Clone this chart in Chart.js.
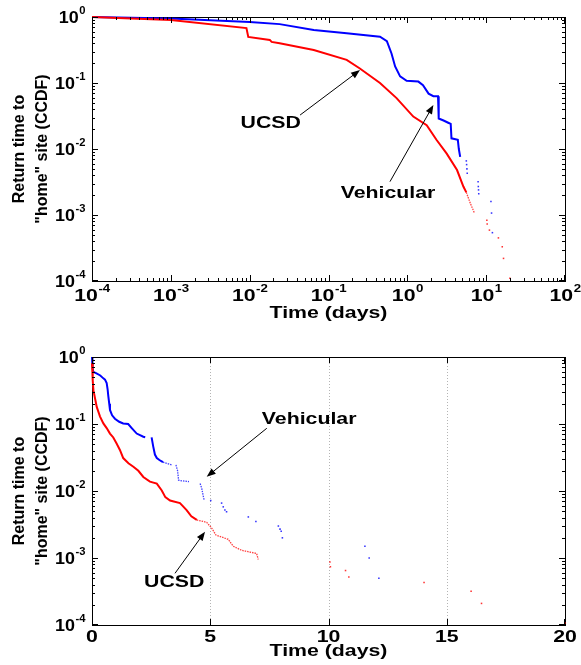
<!DOCTYPE html>
<html>
<head>
<meta charset="utf-8">
<script src="https://cdn.jsdelivr.net/npm/chart.js@4/dist/chart.umd.min.js"></script>
<style>
html,body{margin:0;padding:0;background:#fff}
.box{position:relative;width:581px}
</style>
</head>
<body>
<div class="box" style="height:330px"><canvas id="top"></canvas></div>
<div class="box" style="height:335px"><canvas id="bot"></canvas></div>
<script>
/* ===== data: [days, CCDF] ===== */
// top panel (log-log)
const vehTop = [[1e-4,1.0],[1e-3,0.95],[1e-2,0.84],[0.024,0.78],[0.065,0.635],[0.17,0.566],[0.45,0.504],
  [0.55,0.43],[0.63,0.28],[0.70,0.178],[0.81,0.126],[0.98,0.108],[1.38,0.105],[1.58,0.093],[1.86,0.069],
  [2.14,0.063],[2.45,0.063],[2.5,0.029],[2.88,0.027],[3.3,0.025],[3.55,0.024],[3.63,0.0145],[4.37,0.0138],
  [4.5,0.0100],[4.68,0.0076]];
const vehTopDots = [[5.6,0.0066],[5.65,0.0058],[5.7,0.005],[5.75,0.0043],[7.9,0.0032],[7.95,0.0027],
  [8.0,0.0024],[8.05,0.0021],[11.5,0.0016],[11.7,0.00107],[12.0,0.00054]];
const ucsdTop = [[1e-4,1.0],[1e-3,0.90],[0.0091,0.68],[0.0096,0.50],[0.018,0.45],[0.019,0.42],[0.024,0.40],
  [0.065,0.316],[0.17,0.224],[0.25,0.166],[0.45,0.10],[0.73,0.059],[1.19,0.031],[1.76,0.023],[2.34,0.0138],
  [3.16,0.0085],[4.27,0.0048],[5.14,0.0027],[5.6,0.0022]];
const ucsdTopTail = [[5.6,0.0022],[6.3,0.0015],[7.1,0.00107]];
const ucsdTopDots = [[10.2,0.00083],[10.3,0.00073],[11.0,0.00059],[14.3,0.00045],[16.0,0.00033],
  [16.6,0.00022],[20,0.00011]];

// bottom panel (lin-log); null breaks a line
const vehBot = [[0,1.0],[0.02,0.7],[0.055,0.60],[0.17,0.575],[0.35,0.53],[0.48,0.48],[0.55,0.46],
  [0.62,0.41],[0.66,0.33],[0.69,0.26],[0.73,0.2],[0.76,0.162],[0.85,0.135],[0.97,0.12],[1.15,0.108],
  [1.32,0.102],[1.53,0.10],[1.68,0.087],[1.89,0.072],[2.17,0.0645],[2.25,0.0635],null,
  [2.52,0.063],[2.59,0.046],[2.66,0.035],[2.74,0.031],[2.85,0.029],[3.0,0.027]];
const vehBotTail = [[3.0,0.027],[3.37,0.0245],null,[3.55,0.0245],[3.62,0.02],[3.66,0.0145],[3.8,0.0142],
  [4.1,0.0138],null,[4.57,0.0129],[4.64,0.011],[4.70,0.0085],[4.74,0.0074]];
const vehBotDots = [[5.02,0.0072],[5.48,0.0066],[5.55,0.0058],[5.62,0.0052],[5.69,0.0049],[6.61,0.0041],
  [6.93,0.0035],[7.88,0.0030],[7.95,0.0027],[8.0,0.0025],[8.05,0.0020],[11.54,0.0015],[11.72,0.0010],
  [12.13,0.0005]];
const ucsdBot = [[0,0.81],[0.03,0.45],[0.06,0.32],[0.2,0.18],[0.34,0.129],[0.48,0.102],[0.62,0.087],
  [0.76,0.072],[0.9,0.063],[1.04,0.051],[1.18,0.041],[1.32,0.031],[1.54,0.026],[1.75,0.023],[1.96,0.020],
  [2.17,0.0162],[2.45,0.0138],[2.74,0.0129],[2.95,0.0102],[3.1,0.0081],[3.3,0.0072],[3.72,0.0066],
  [4.0,0.0052],[4.2,0.0042],[4.43,0.0037]];
const ucsdBotTail = [[4.43,0.0037],[4.85,0.0034],[5.06,0.0028],[5.24,0.0022],[5.76,0.0019],[5.97,0.0015],
  [6.33,0.0013],[6.96,0.00117],[7.03,0.00095]];
const ucsdBotDots = [[10.06,0.00087],[10.08,0.00074],[10.72,0.00065],[10.86,0.00052],[14.04,0.00043],
  [16.03,0.00032],[16.47,0.00021],[20,0.000107]];

// axes
const xTopTicks = [1e-4,1e-3,1e-2,1e-1,1,10,100];
const xTopExp   = ['-4','-3','-2','-1','0','1','2'];
const xBotTicks = [0,5,10,15,20];
const xBotLabels = ['0','5','10','15','20'];
const xBotGrid  = [5,10,15];
const yTicks = [1,1e-1,1e-2,1e-3,1e-4];
const yExp   = ['0','-1','-2','-3','-4'];
const xTitle = 'Time (days)';
const yTitle = ['Return time to', '"home" site (CCDF)'];

// annotations: label at (x,y), arrow from (ax,ay) to (hx,hy)
const notesTop = [
  {t:'UCSD', x:0.0185, y:0.0239, ax:0.0436, ay:0.0327, hx:0.251, hy:0.157},
  {t:'Vehicular', x:0.569, y:0.00212, ax:0.602, ay:0.0032, hx:2.14, hy:0.0464},
];
const notesBot = [
  {t:'Vehicular', x:9.18, y:0.115, ax:7.39, ay:0.0863, hx:4.85, hy:0.0163},
  {t:'UCSD', x:3.475, y:0.000423, ax:3.51, ay:0.000591, hx:4.78, hy:0.00247},
];

/* ===== drawing helpers ===== */
const SX = 1.33;   // exported figure has horizontally wide lettering
const FONT = '"Liberation Sans", Arial, sans-serif';
const RED = '#ff0000', BLUE = '#0000ff';

function say(ctx, s, x, y, size, align, sx = SX){
  ctx.save(); ctx.translate(x, y); ctx.scale(sx, 1);
  ctx.font = `bold ${size}px ${FONT}`; ctx.textAlign = align; ctx.textBaseline = 'middle';
  ctx.fillStyle = '#000'; ctx.fillText(s, 0, 0); ctx.restore();
}
const wid = (ctx, s, size, sx) => { ctx.font = `bold ${size}px ${FONT}`; return ctx.measureText(s).width*sx; };
function pow10(ctx, e, x, y, align, sx = SX){
  const wb = wid(ctx,'10',16,sx), we = wid(ctx,e,10,sx);
  const x0 = align==='center' ? x-(wb+we)/2 : x-wb-we;
  say(ctx, '10', x0, y, 16, 'left', sx);
  say(ctx, e, x0+wb+0.5, y-8, 10, 'left', sx);
}
function arrow(ctx, x1, y1, x2, y2){
  const a = Math.atan2(y2-y1, x2-x1), L = 9, W = 3.5, c = Math.cos(a), s = Math.sin(a);
  ctx.beginPath(); ctx.moveTo(x1,y1); ctx.lineTo(x2-L*c*0.7, y2-L*s*0.7); ctx.stroke();
  ctx.beginPath(); ctx.moveTo(x2,y2);
  ctx.lineTo(x2-L*c+W*s, y2-L*s-W*c); ctx.lineTo(x2-L*c-W*s, y2-L*s+W*c);
  ctx.closePath(); ctx.fill();
}
const minors = (lo, hi) => {
  const out = [];
  for (let k = Math.round(Math.log10(lo)); k < Math.round(Math.log10(hi)); k++)
    for (let m = 2; m <= 9; m++) out.push(m*Math.pow(10,k));
  return out;
};

const matlabAxes = {
  id: 'matlabAxes',
  beforeDatasetsDraw(c, args, o){
    const {ctx, chartArea:{left,right,top,bottom}} = c, X = c.scales.x, Y = c.scales.y;
    ctx.save(); ctx.strokeStyle = '#b4b4b4'; ctx.lineWidth = 1; ctx.setLineDash([1,2]);
    (o.grid||[]).forEach(v => {
      const px = Math.round(X.getPixelForValue(v))+0.5;
      ctx.beginPath(); ctx.moveTo(px,top); ctx.lineTo(px,bottom); ctx.stroke();
    });
    ctx.restore();
  },
  afterDraw(c, args, o){
    const {ctx, chartArea:{left,right,top,bottom}} = c, X = c.scales.x, Y = c.scales.y;
    ctx.save();
    ctx.setLineDash([]); ctx.globalAlpha = 1;
    ctx.strokeStyle = '#000'; ctx.fillStyle = '#000'; ctx.lineWidth = 1;
    // inward ticks on all four sides
    const L = Math.round(left), R = Math.round(right), T = Math.round(top), B = Math.round(bottom);
    const tx = (v, len) => { const p = Math.min(R-1, Math.round(X.getPixelForValue(v)));
      ctx.fillRect(p, B-len, 1, len); ctx.fillRect(p, T, 1, len); };
    const ty = (v, len) => { const p = Math.min(B-1, Math.round(Y.getPixelForValue(v)));
      ctx.fillRect(L, p, len, 1); ctx.fillRect(R-len, p, len, 1); };
    o.xTicks.forEach(v => tx(v, 6));
    if (o.xLog) minors(X.min, X.max).forEach(v => tx(v, 3));
    o.yTicks.forEach(v => ty(v, 6));
    minors(Y.min, Y.max).forEach(v => ty(v, 3));

    // tick labels
    o.xTicks.forEach((v,i) => {
      const p = X.getPixelForValue(v);
      if (o.xLog) pow10(ctx, o.xExp[i], p, bottom+16, 'center');
      else say(ctx, o.xLabels[i], p, bottom+13, 16, 'center');
    });
    o.yTicks.forEach((v,i) => pow10(ctx, yExp[i], left-7, Y.getPixelForValue(v)+2, 'right', 1.12));

    // titles
    say(ctx, xTitle, (left+right)/2, o.xTitleY, 16, 'center');
    const cy = (top+bottom)/2;
    [20, 43].forEach((x,i) => {
      ctx.save(); ctx.translate(x, cy); ctx.rotate(-Math.PI/2);
      say(ctx, yTitle[i], 0, 0, 16, 'center', 1); ctx.restore();
    });

    // annotations
    (o.notes||[]).forEach(n => {
      say(ctx, n.t, X.getPixelForValue(n.x), Y.getPixelForValue(n.y), 16, 'center');
      arrow(ctx, X.getPixelForValue(n.ax), Y.getPixelForValue(n.ay),
                 X.getPixelForValue(n.hx), Y.getPixelForValue(n.hy));
    });
    ctx.restore();
  }
};

const pts = arr => arr.map(p => p ? {x:p[0], y:p[1]} : {x:NaN, y:null});
const solid = (d, col) => ({data:pts(d), showLine:true, borderColor:col, borderWidth:2, pointRadius:0,
  spanGaps:false, clip:2});
const thin  = (d, col) => ({data:pts(d), showLine:true, borderColor:col, borderWidth:1.3, borderDash:[1.5,1],
  pointRadius:0, spanGaps:false, clip:2});
const dots  = (d, col) => ({data:pts(d), showLine:false, pointStyle:'rect', pointRadius:1.1,
  pointBackgroundColor:col, pointBorderWidth:0, clip:2});

// axis lines come from Chart.js's own scale borders (one scale per side)
const edge = (extra) => Object.assign({
  display:true,
  border:{display:true, color:'#000', width:1},
  grid:{display:false, drawTicks:false},
  ticks:{display:false, padding:0}
}, extra);

function build(id, pad, xScale, datasets, axesOpt){
  const yScale = {type:'logarithmic', min:1e-4, max:1};
  return new Chart(document.getElementById(id), {
    type: 'scatter',
    data: {datasets},
    options: {
      responsive:true, maintainAspectRatio:false, animation:false,
      layout:{padding:pad},
      plugins:{legend:{display:false}, tooltip:{enabled:false}, matlabAxes:axesOpt},
      scales:{
        x:  edge(Object.assign({position:'bottom'}, xScale)),
        x2: edge(Object.assign({position:'top'}, xScale)),
        y:  edge(Object.assign({position:'left'}, yScale)),
        y2: edge(Object.assign({position:'right'}, yScale))
      }
    },
    plugins:[matlabAxes]
  });
}

build('top', {left:92, top:17, right:16, bottom:49},
  {type:'logarithmic', min:1e-4, max:100},
  [ solid(ucsdTop, RED), thin(ucsdTopTail, 'rgba(255,0,0,0.75)'), dots(ucsdTopDots, 'rgba(255,0,0,0.8)'),
    solid(vehTop, BLUE), dots(vehTopDots, 'rgba(0,0,255,0.8)') ],
  {xLog:true, xTicks:xTopTicks, xExp:xTopExp, yTicks, xTitleY:314, notes:notesTop});

build('bot', {left:92, top:27, right:16, bottom:40},
  {type:'linear', min:0, max:20},
  [ solid(ucsdBot, RED), thin(ucsdBotTail, 'rgba(255,0,0,0.75)'), dots(ucsdBotDots, 'rgba(255,0,0,0.8)'),
    solid(vehBot, BLUE), thin(vehBotTail, 'rgba(0,0,255,0.75)'), dots(vehBotDots, 'rgba(0,0,255,0.8)') ],
  {xLog:false, xTicks:xBotTicks, xLabels:xBotLabels, yTicks, xTitleY:322, grid:xBotGrid, notes:notesBot});
</script>
</body>
</html>
